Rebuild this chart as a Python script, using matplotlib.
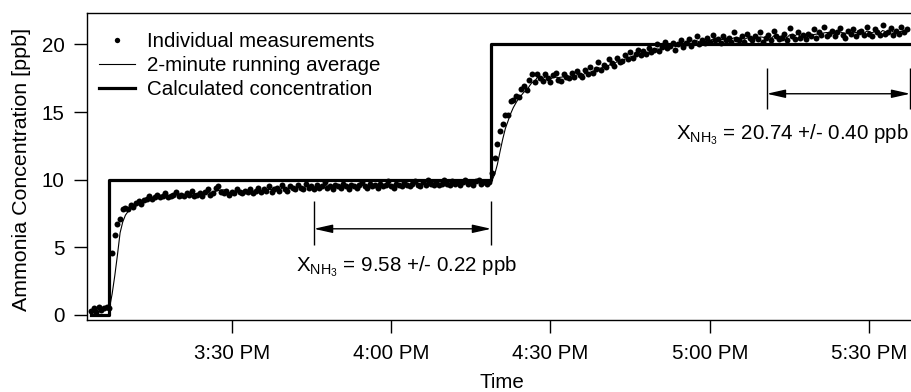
import matplotlib
matplotlib.use("Agg")
import matplotlib.pyplot as plt
import matplotlib.dates as mdates
from matplotlib.ticker import FuncFormatter
import numpy as np
import pandas as pd

plt.rcParams['font.family'] = ['Liberation Sans', 'DejaVu Sans']
plt.rcParams['mathtext.fontset'] = 'custom'
plt.rcParams['mathtext.rm'] = 'Liberation Sans'
plt.rcParams['mathtext.it'] = 'Liberation Sans:italic'
plt.rcParams['mathtext.bf'] = 'Liberation Sans:bold'

# ---------------- data ----------------
DAY = "2000-01-01 "
sample_start = "15:03:30"
sample_interval = "30s"

measurements = [
    0.3, 0.5, 0.2, 0.6, 0.4, 0.5, 0.6, 0.5, 4.6, 5.9,
    6.7, 7.1, 7.8, 7.9, 7.8, 8.1, 8.0, 8.3, 8.4, 8.2,
    8.5, 8.6, 8.8, 8.6, 8.7, 8.9, 8.7, 8.8, 9.0, 8.7,
    8.8, 8.9, 9.1, 8.8, 8.9, 8.8, 9.0, 8.9, 9.2, 8.8,
    8.9, 9.0, 8.8, 9.1, 9.3, 8.9, 9.0, 9.4, 9.5, 9.1,
    9.0, 9.2, 8.9, 9.1, 9.0, 9.3, 9.1, 9.0, 9.2, 9.1,
    9.3, 9.0, 9.2, 9.4, 9.1, 9.3, 9.2, 9.5, 9.1, 9.3,
    9.4, 9.2, 9.6, 9.3, 9.2, 9.5, 9.4, 9.3, 9.6, 9.4,
    9.3, 9.7, 9.4, 9.5, 9.3, 9.6, 9.4, 9.5, 9.8, 9.4,
    9.5, 9.3, 9.6, 9.5, 9.4, 9.7, 9.5, 9.3, 9.6, 9.5,
    9.4, 9.6, 9.8, 9.5, 9.4, 9.7, 9.5, 9.6, 9.4, 9.7,
    9.5, 9.6, 9.9, 9.5, 9.4, 9.7, 9.6, 9.5, 9.8, 9.6,
    9.5, 9.7, 9.9, 9.6, 9.5, 9.8, 9.6, 10.0, 9.7, 9.6,
    9.8, 9.6, 9.7, 10.0, 9.7, 9.6, 9.9, 9.7, 9.8, 9.6,
    9.8, 10.0, 9.7, 9.8, 9.6, 9.9, 10.0, 9.7, 9.8, 9.7,
    9.8, 10.5, 11.6, 12.6, 13.6, 14.1, 14.8, 14.8, 15.8, 15.9,
    16.2, 16.1, 16.7, 16.9, 16.6, 17.4, 17.8, 17.2, 17.8, 17.5,
    17.3, 17.8, 17.5, 17.2, 17.7, 17.9, 17.4, 17.3, 17.8, 17.6,
    17.5, 17.9, 17.6, 18.0, 17.7, 17.6, 18.1, 17.8, 18.3, 17.9,
    18.2, 18.7, 18.1, 18.5, 18.3, 18.9, 18.6, 18.4, 19.0, 18.7,
    18.8, 19.2, 18.9, 19.4, 19.0, 19.3, 19.6, 19.2, 19.5, 19.3,
    19.7, 19.4, 19.6, 20.0, 19.5, 19.8, 20.2, 19.7, 19.9, 20.1,
    19.6, 20.0, 20.3, 19.8, 20.1, 20.4, 19.9, 20.2, 20.6, 20.0,
    20.3, 20.1, 20.5, 20.2, 20.7, 20.3, 20.4, 20.1, 20.6, 20.3,
    20.5, 20.2, 20.9, 20.4, 20.3, 20.6, 20.2, 20.8, 20.5, 20.3,
    20.6, 20.4, 20.9, 20.2, 20.5, 20.7, 20.3, 21.0, 20.6, 20.4,
    20.5, 20.8, 20.3, 21.2, 20.6, 20.4, 20.9, 20.5, 20.7, 20.4,
    20.8, 20.6, 21.1, 20.5, 20.9, 20.7, 21.3, 20.6, 20.8, 21.0,
    20.6, 20.9, 21.2, 20.7, 20.5, 21.0, 20.8, 21.1, 20.6, 20.9,
    21.0, 20.7, 21.3, 20.8, 20.6, 21.1, 20.9, 20.7, 21.4, 20.8,
    20.9, 21.2, 20.7, 21.0, 20.8, 21.3, 20.9, 21.1,
]
running_window = 4  # 2 minutes of 30 s samples

calc_times = ["15:03:30", "15:06:50", "16:18:50", "17:38:30"]
calc_values = [0, 10, 20, 20]

period1 = ("15:45:28", "16:18:50")
period2 = ("17:10:42", "17:37:42")
result_labels = [r"$\mathregular{X_{NH_3}}$ = 9.58 +/- 0.22 ppb",
                 r"$\mathregular{X_{NH_3}}$ = 20.74 +/- 0.40 ppb"]

y_ticks = [0, 5, 10, 15, 20]
x_range = ("15:02:43", "17:38:02")
y_range = (-0.37, 22.34)

# ---------------- build ----------------
t = pd.date_range(DAY + sample_start, periods=len(measurements), freq=sample_interval)
meas = pd.Series(measurements, index=t)
avg = meas.rolling(running_window, min_periods=1).mean()
ct = pd.to_datetime([DAY + s for s in calc_times])

W, H = 911, 392
fig = plt.figure(figsize=(W / 100, H / 100), dpi=100)
ax = fig.add_axes([86.7 / W, 1 - 320 / H, (912 - 86.7) / W, (320 - 12.7) / H])

fs = 14.8
ax.plot(t, meas.values, 'o', color='black', markersize=4.3, markeredgewidth=0,
        label='Individual measurements', zorder=3)
ax.plot(t, avg.values, '-', color='black', lw=0.8, label='2-minute running average', zorder=2)
ax.plot(ct, calc_values, '-', color='black', lw=2.3, drawstyle='steps-post',
        label='Calculated concentration', zorder=4)

ax.set_xlim(pd.Timestamp(DAY + x_range[0]), pd.Timestamp(DAY + x_range[1]))
ax.set_ylim(*y_range)
ax.set_yticks(y_ticks)
ax.xaxis.set_major_locator(mdates.MinuteLocator(byminute=[0, 30]))
ax.xaxis.set_major_formatter(FuncFormatter(
    lambda v, p: mdates.num2date(v).strftime('%I:%M %p').lstrip('0')))

for s in ['left', 'bottom', 'top']:
    ax.spines[s].set_linewidth(1.0)
ax.spines['right'].set_visible(False)
ax.tick_params(axis='both', direction='out', length=9.5, width=1.0, labelsize=fs)
ax.tick_params(axis='x', pad=7.5)
ax.tick_params(axis='y', pad=6.5)

ax.set_ylabel('Ammonia Concentration [ppb]', fontsize=15.4)
ax.yaxis.set_label_coords(-0.068, 0.49)
ax.set_xlabel('Time', fontsize=fs)
ax.xaxis.set_label_coords(0.503, -0.203)
ax.xaxis.label.set_va('center')

leg = ax.legend(loc='upper left', bbox_to_anchor=(0.0, 0.978), frameon=False,
                fontsize=fs, handlelength=1.76, handletextpad=0.55,
                labelspacing=0.26, borderpad=0, borderaxespad=0.6, markerscale=0.9)

# annotations
for (a, b), (ylo, yhi, yarr), lab, tx, ha, ty in [
        (period1, (5.19, 8.39, 6.37), result_labels[0], pd.Timestamp(DAY + "16:03:00"), 'center', 3.6),
        (period2, (15.19, 18.27, 16.35), result_labels[1], pd.Timestamp(DAY + "17:37:30"), 'right', 13.3)]:
    ta, tb = pd.Timestamp(DAY + a), pd.Timestamp(DAY + b)
    ax.vlines([ta, tb], ylo, yhi, color='black', lw=1.0)
    ax.annotate('', xy=(tb, yarr), xytext=(ta, yarr),
                arrowprops=dict(arrowstyle='<|-|>,head_length=0.8,head_width=0.18',
                                color='black', lw=1.0, mutation_scale=14,
                                shrinkA=0, shrinkB=0))
    ax.text(tx, ty, lab, ha=ha, va='center', fontsize=fs)

fig.savefig('out.png', dpi=100)
